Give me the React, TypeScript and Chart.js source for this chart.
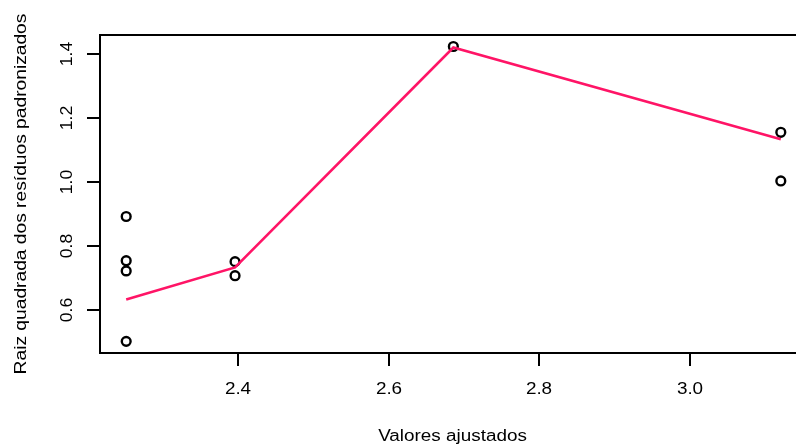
import React, { useEffect, useRef } from "react";
import { Chart, registerables } from "chart.js";

Chart.register(...registerables);

// Data (scale-location plot)
const fittedX: number[] = [2.2514, 2.2514, 2.2514, 2.2514, 2.396, 2.396, 2.686, 3.121, 3.121];
const sqrtStdResid: number[] = [0.892, 0.754, 0.722, 0.502, 0.751, 0.707, 1.423, 1.155, 1.003];

const smoothX: number[] = [2.2514, 2.396, 2.686, 3.121];
const smoothY: number[] = [0.633, 0.733, 1.42, 1.133];

const xTicks: number[] = [2.4, 2.6, 2.8, 3.0];
const yTicks: number[] = [0.6, 0.8, 1.0, 1.2, 1.4];
const xTickLabels: string[] = ["2.4", "2.6", "2.8", "3.0"];
const yTickLabels: string[] = ["0.6", "0.8", "1.0", "1.2", "1.4"];

const xTitle = "Valores ajustados";
const yTitle = "Raiz quadrada dos resíduos padronizados";

const X_MIN = 2.2166;
const X_MAX = 3.1558;
const Y_MIN = 0.4656;
const Y_MAX = 1.459;

const FONT = '16px "Liberation Sans", Arial, sans-serif';

function drawText(
  ctx: CanvasRenderingContext2D,
  text: string,
  x: number,
  y: number,
  rot: number,
  sx: number
) {
  ctx.save();
  ctx.translate(x, y);
  ctx.rotate(rot);
  ctx.scale(sx, 1);
  ctx.fillText(text, 0, 0);
  ctx.restore();
}

const rAxesPlugin = {
  id: "rAxes",
  afterDraw(chart: any) {
    const ctx: CanvasRenderingContext2D = chart.ctx;
    const { left, top, right, bottom } = chart.chartArea;
    const xs = chart.scales.x;
    const ys = chart.scales.y;
    ctx.save();
    ctx.strokeStyle = "#000";
    ctx.lineWidth = 2;
    ctx.strokeRect(left, top, right - left, bottom - top);

    ctx.fillStyle = "#000";
    ctx.font = FONT;
    ctx.textAlign = "center";
    ctx.textBaseline = "alphabetic";

    // x ticks
    xTicks.forEach((v, i) => {
      const px = Math.round(xs.getPixelForValue(v));
      ctx.beginPath();
      ctx.moveTo(px, bottom);
      ctx.lineTo(px, bottom + 13);
      ctx.stroke();
      drawText(ctx, xTickLabels[i], px, 394, 0, 1.18);
    });
    // y ticks
    yTicks.forEach((v, i) => {
      const py = Math.round(ys.getPixelForValue(v));
      ctx.beginPath();
      ctx.moveTo(left, py);
      ctx.lineTo(left - 13, py);
      ctx.stroke();
      drawText(ctx, yTickLabels[i], 72, py, -Math.PI / 2, 1.1);
    });

    drawText(ctx, xTitle, (left + right) / 2 - 1, 440.5, 0, 1.18);
    drawText(ctx, yTitle, 25.5, (top + bottom) / 2, -Math.PI / 2, 1.2);
    ctx.restore();
  },
};

export default function App() {
  const ref = useRef<HTMLCanvasElement | null>(null);

  useEffect(() => {
    document.body.style.margin = "0";
    document.body.style.overflow = "hidden";
    const canvas = ref.current;
    if (!canvas) return;
    const chart = new Chart(canvas, {
      type: "scatter",
      data: {
        datasets: [
          {
            type: "line",
            data: smoothX.map((x, i) => ({ x, y: smoothY[i] })),
            borderColor: "#FF1466",
            borderWidth: 2.6,
            pointRadius: 0,
            fill: false,
            order: 0,
          } as any,
          {
            type: "scatter",
            data: fittedX.map((x, i) => ({ x, y: sqrtStdResid[i] })),
            pointStyle: "circle",
            pointRadius: 4.4,
            pointBorderWidth: 2.4,
            borderColor: "#000",
            backgroundColor: "rgba(0,0,0,0)",
            pointBackgroundColor: "rgba(0,0,0,0)",
            pointBorderColor: "#000",
            order: 1,
          } as any,
        ],
      },
      options: {
        animation: false,
        responsive: false,
        layout: { padding: { left: 100, top: 35, bottom: 93, right: 23 } },
        plugins: { legend: { display: false }, tooltip: { enabled: false } },
        scales: {
          x: { type: "linear", min: X_MIN, max: X_MAX, display: false },
          y: { type: "linear", min: Y_MIN, max: Y_MAX, display: false },
        },
      },
      plugins: [rAxesPlugin],
    });
    return () => chart.destroy();
  }, []);

  return (
    <div style={{ width: 830, height: 446, overflow: "hidden", background: "#fff" }}>
      <canvas ref={ref} width={830} height={446} style={{ display: "block" }} />
    </div>
  );
}
